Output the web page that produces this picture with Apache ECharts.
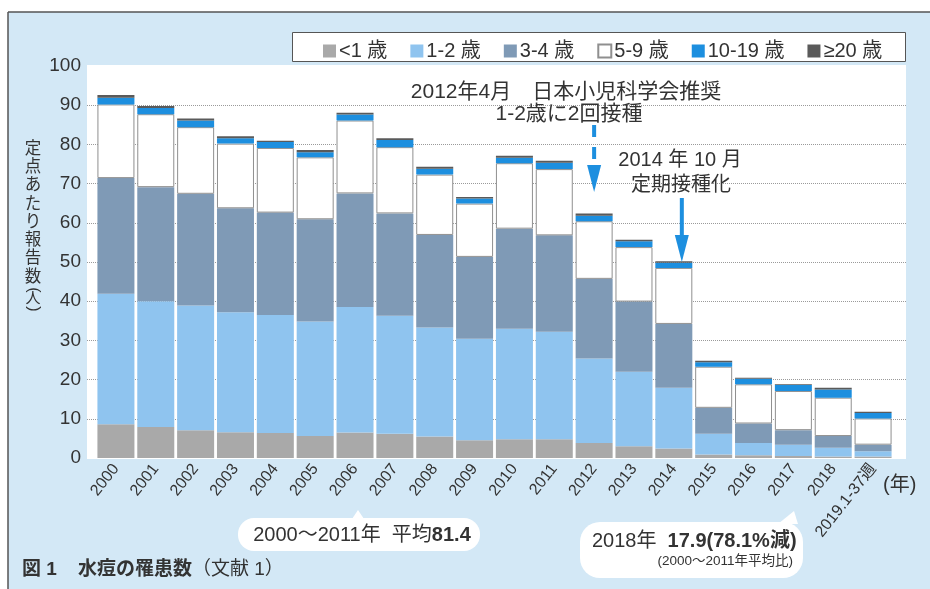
<!DOCTYPE html>
<html><head><meta charset="utf-8">
<script src="https://cdn.jsdelivr.net/npm/echarts@6/dist/echarts.min.js"></script>
<style>html,body{margin:0;padding:0;background:#fff}#c{width:930px;height:589px}</style>
</head><body><div id="c"></div>
<script>
// ---- data ----
const categories = ['2000','2001','2002','2003','2004','2005','2006','2007','2008','2009','2010','2011','2012','2013','2014','2015','2016','2017','2018','2019.1-37週'];
const seriesNames = ['<1 歳','1-2 歳','3-4 歳','5-9 歳','10-19 歳','≥20 歳'];
const under1    = [8.6,7.9,7.1,6.6,6.4,5.6,6.5,6.2,5.5,4.5,4.8,4.8,3.8,3.0,2.4,0.9,0.7,0.5,0.4,0.4];
const age1to2   = [33.3,32.1,31.8,30.6,30.1,29.2,32.0,30.1,27.8,25.9,28.2,27.4,21.6,19.0,15.5,5.3,3.1,2.9,2.2,1.3];
const age3to4   = [29.5,29.1,28.5,26.5,26.1,26.1,29.0,26.1,23.6,20.9,25.5,24.6,20.3,17.9,16.3,6.6,5.0,3.7,3.0,1.7];
const age5to9   = [18.8,18.6,17.0,16.5,16.5,15.8,18.6,16.9,15.4,13.6,16.7,16.9,14.7,13.9,14.3,10.5,10.0,10.0,9.8,6.7];
const age10to19 = [1.7,1.6,1.7,1.4,1.5,1.3,1.5,1.8,1.5,1.3,1.4,1.6,1.4,1.5,1.3,1.1,1.4,1.5,2.1,1.4];
const age20plus = [0.7,0.5,0.5,0.5,0.3,0.6,0.5,0.5,0.5,0.4,0.5,0.5,0.6,0.4,0.4,0.4,0.3,0.2,0.4,0.3];
const yMin = 0, yMax = 100, yStep = 10;

// ---- style ----
const FONT = '"Liberation Sans", Arial, "Noto Sans CJK JP", sans-serif';
const TXT = '#333';
const colors = ['#a9a9a9', '#8fc4ef', '#7f9ab6', '#ffffff', '#1d8fdf', '#5a5a5a'];
const seriesData = [under1, age1to2, age3to4, age5to9, age10to19, age20plus];

const chart = echarts.init(document.getElementById('c'), null, {renderer: 'canvas'});

const option = {
  backgroundColor: '#ffffff',
  animation: false,
  textStyle: {fontFamily: FONT},
  grid: [
    {left: 87, right: 24, top: 66, bottom: 131},
    {left: 96, right: 37, top: 66, bottom: 131}
  ],
  xAxis: [
    {gridIndex: 0, type: 'category', data: categories, show: false},
    {gridIndex: 1, type: 'category', data: categories,
     axisLine: {show: false}, axisTick: {show: false},
     axisLabel: {interval: 0, rotate: 52, fontSize: 16, color: TXT, fontFamily: FONT, margin: 8}}
  ],
  yAxis: [
    {gridIndex: 0, type: 'value', min: yMin, max: yMax, interval: yStep,
     axisLine: {show: false}, axisTick: {show: false},
     axisLabel: {fontSize: 19, color: TXT, fontFamily: FONT, margin: 6},
     splitLine: {show: true, showMinLine: false, showMaxLine: false,
                 lineStyle: {color: '#9a9a9a', type: 'dotted', width: 1}}},
    {gridIndex: 1, type: 'value', min: yMin, max: yMax, interval: yStep, show: false,
     splitLine: {show: false}}
  ],
  legend: {
    left: 318, top: 36, itemWidth: 13, itemHeight: 13, itemGap: 23, icon: 'rect',
    selectedMode: false, data: seriesNames,
    textStyle: {fontSize: 20, color: TXT, fontFamily: FONT, padding: [0, 0, 0, -2]}
  },
  series: seriesNames.map((name, i) => ({
    name: name, type: 'bar', stack: 'total', xAxisIndex: 1, yAxisIndex: 1,
    barWidth: 37, data: seriesData[i],
    itemStyle: i === 3 ? {color: colors[i], borderColor: '#8f8f8f', borderWidth: 1}
                       : {color: colors[i]}
  }))
};
chart.setOption(option);

// ---- decorations & annotations ----
const xOf = (cat) => chart.convertToPixel({gridIndex: 1}, [cat, 0])[0];
const BLUE = '#1d8fdf';
const ax1 = xOf('2012');
const ax2 = xOf('2014') + 8;

const vc = {fontSize: 16.5, fontFamily: FONT, fill: TXT, color: TXT, lineHeight: 18.3, align: 'center'};
const yName = ['定','点','あ','た','り','報','告','数'].map(c => '{c|' + c + '}').join('\n');

const graphics = [
  {type: 'rect', z: -10, shape: {x: 8, y: 12, width: 922, height: 577},
   style: {fill: '#d3e8f6'}},
  {type: 'line', z: -9, shape: {x1: 8, y1: 12, x2: 930, y2: 12}, style: {stroke: '#555', lineWidth: 1.5}},
  {type: 'line', z: -9, shape: {x1: 8, y1: 12, x2: 8, y2: 589}, style: {stroke: '#555', lineWidth: 1.5}},
  {type: 'rect', z: -8, shape: {x: 87, y: 65, width: 819, height: 394}, style: {fill: '#ffffff'}},
  {type: 'rect', z: -8, shape: {x: 292.5, y: 32.5, width: 613, height: 29},
   style: {fill: '#ffffff', stroke: '#555', lineWidth: 1}},
  // y axis name (vertical)
  {type: 'text', z: 5, style: {text: yName, x: 33, y: 140, textAlign: 'center', textVerticalAlign: 'top',
    rich: {c: vc}}},
  {type: 'text', z: 5, x: 33, y: 290, rotation: -Math.PI / 2, style: {text: '(', x: 0, y: 0, fontSize: 16,
    fontFamily: FONT, fill: TXT, textAlign: 'center', textVerticalAlign: 'middle'}},
  {type: 'text', z: 5, style: {text: '人', x: 33, y: 299, fontSize: 15, fontFamily: FONT, fill: TXT,
    textAlign: 'center', textVerticalAlign: 'middle'}},
  {type: 'text', z: 5, x: 33, y: 309, rotation: -Math.PI / 2, style: {text: ')', x: 0, y: 0, fontSize: 16,
    fontFamily: FONT, fill: TXT, textAlign: 'center', textVerticalAlign: 'middle'}},
  // (年)
  {type: 'text', z: 5, style: {text: '(年)', x: 883, y: 485, fontSize: 20, fontFamily: FONT, fill: TXT,
    textAlign: 'left', textVerticalAlign: 'middle'}},
  // annotation 1
  {type: 'text', z: 5, style: {text: '2012年4月　日本小児科学会推奨', x: 566, y: 92, fontSize: 21, fontFamily: FONT,
    fill: TXT, textAlign: 'center', textVerticalAlign: 'middle'}},
  {type: 'text', z: 5, style: {text: '1-2歳に2回接種', x: 569, y: 114, fontSize: 21, fontFamily: FONT,
    fill: TXT, textAlign: 'center', textVerticalAlign: 'middle'}},
  {type: 'line', z: 5, shape: {x1: ax1, y1: 125, x2: ax1, y2: 162},
   style: {stroke: BLUE, lineWidth: 4, lineDash: [12, 10]}},
  {type: 'polygon', z: 5, shape: {points: [[ax1 - 7, 165], [ax1 + 7, 165], [ax1, 192]]}, style: {fill: BLUE}},
  // annotation 2
  {type: 'text', z: 5, style: {text: '2014 年 10 月', x: 680, y: 160, fontSize: 20, fontFamily: FONT,
    fill: TXT, textAlign: 'center', textVerticalAlign: 'middle'}},
  {type: 'text', z: 5, style: {text: '定期接種化', x: 681, y: 185, fontSize: 20, fontFamily: FONT,
    fill: TXT, textAlign: 'center', textVerticalAlign: 'middle'}},
  {type: 'line', z: 5, shape: {x1: ax2, y1: 198, x2: ax2, y2: 237}, style: {stroke: BLUE, lineWidth: 4}},
  {type: 'polygon', z: 5, shape: {points: [[ax2 - 7, 235], [ax2 + 7, 235], [ax2, 262]]}, style: {fill: BLUE}},
  // callout 1
  {type: 'rect', z: -7, shape: {x: 238, y: 518, width: 242, height: 33, r: 16}, style: {fill: '#ffffff'}},
  {type: 'polygon', z: -7, shape: {points: [[352, 519], [364, 519], [358, 510]]}, style: {fill: '#ffffff'}},
  {type: 'text', z: 5, style: {text: '{n|2000～2011年  平均}{b|81.4}', x: 362, y: 535, textAlign: 'center',
    textVerticalAlign: 'middle', rich: {
      n: {fontSize: 20, fontFamily: FONT, fill: TXT, color: TXT},
      b: {fontSize: 20, fontFamily: FONT, fontWeight: 'bold', fill: TXT, color: TXT}}}},
  // callout 2
  {type: 'rect', z: -7, shape: {x: 580, y: 522, width: 223, height: 56, r: 20}, style: {fill: '#ffffff'}},
  {type: 'polygon', z: -7, shape: {points: [[778, 524], [798, 524], [794, 511]]}, style: {fill: '#ffffff'}},
  {type: 'text', z: 5, style: {text: '{n|2018年  }{b|17.9(78.1%減)}', x: 592, y: 541, textAlign: 'left',
    textVerticalAlign: 'middle', rich: {
      n: {fontSize: 20, fontFamily: FONT, fill: TXT, color: TXT},
      b: {fontSize: 20, fontFamily: FONT, fontWeight: 'bold', fill: TXT, color: TXT}}}},
  {type: 'text', z: 5, style: {text: '(2000～2011年平均比)', x: 793, y: 561, fontSize: 13.5, fontFamily: FONT,
    fill: TXT, textAlign: 'right', textVerticalAlign: 'middle'}},
  // caption
  {type: 'text', z: 5, style: {text: '{b|図 1}{s|    }{b|水痘の罹患数}{n|（文献 1）}', x: 22, y: 570, textAlign: 'left',
    textVerticalAlign: 'middle', rich: {
      b: {fontSize: 19, fontFamily: FONT, fontWeight: 'bold', fill: TXT, color: TXT},
      s: {fontSize: 19, fontFamily: FONT},
      n: {fontSize: 19, fontFamily: FONT, fill: TXT, color: TXT}}}}
];
chart.setOption({graphic: graphics});
</script>
</body></html>
